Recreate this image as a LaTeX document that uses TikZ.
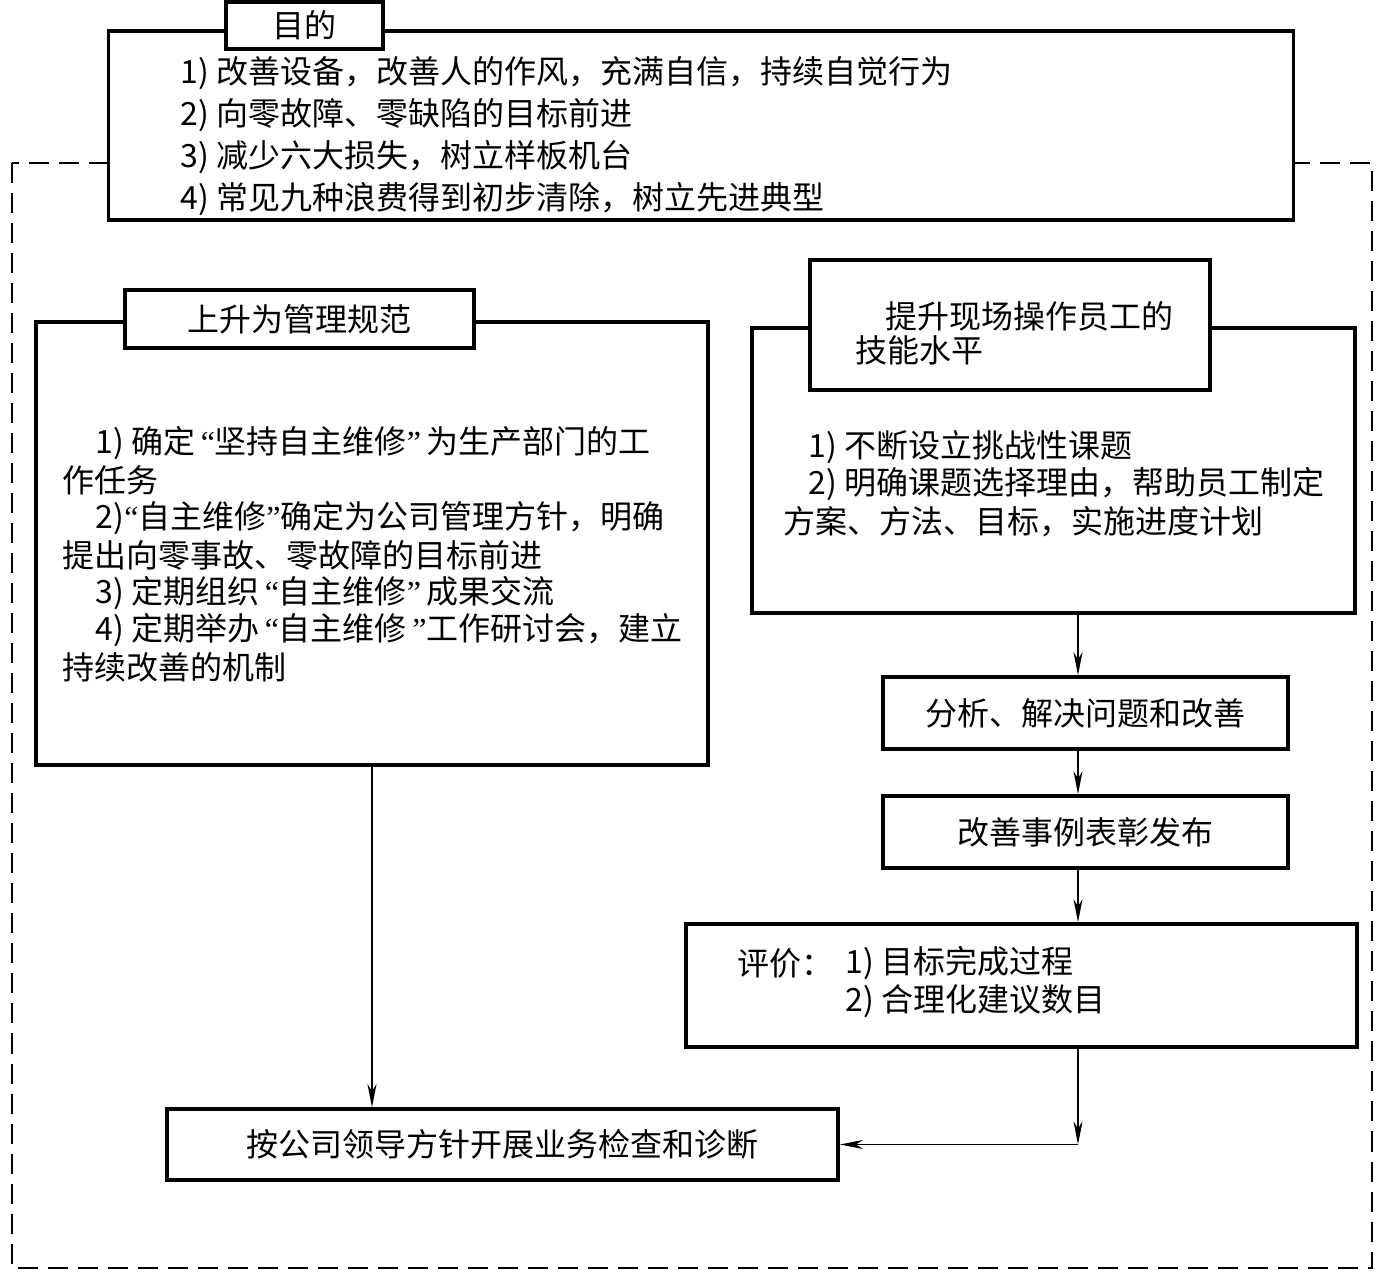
\documentclass[tikz,border=0pt]{standalone}
\usepackage{fontspec}
\setmainfont{Noto Sans CJK SC}
\newfontfamily\quotefont{Liberation Serif}
\usetikzlibrary{arrows.meta,positioning}
\newcommand{\boxfont}{\fontsize{9.1pt}{11pt}\selectfont}
\newcommand{\oq}{{\quotefont“}}
\newcommand{\cq}{{\quotefont”}}
\tikzset{panel/.style={draw,line width=1pt,fill=white,inner sep=0pt,font=\boxfont},
  txt/.style={font=\boxfont,inner sep=0pt,anchor=west},
  link/.style={line width=.45pt,-{Stealth[length=2.3mm,width=.9mm,inset=.7mm]}},
  zone/.style={line width=.6pt,dash pattern=on 2mm off 1mm}}

\begin{document}
\begin{tikzpicture}[x=.01cm,y=-.01cm]
\useasboundingbox (0,0) rectangle (1378,1277);
\draw[zone] (12,163) rectangle (1372,1268);
% goals on top
\node[panel,minimum width=11.84cm,minimum height=1.89cm] (goal) at (701,125.5) {};
\node[panel,minimum width=1.57cm,minimum height=.47cm] (goaltab) at (304.5,25.5) {目的};
\foreach \t [count=\i] in {{1) 改善设备，改善人的作风，充满自信，持续自觉行为},
  {2) 向零故障、零缺陷的目标前进},{3) 减少六大损失，树立样板机台},
  {4) 常见九种浪费得到初步清除，树立先进典型}}
  \node[txt] (goal\i) at (180,31+42*\i) {\t};
% left branch
\node[panel,minimum width=6.72cm,minimum height=4.43cm] (left) at (372,543.5) {};
\node[panel,minimum width=3.49cm,minimum height=.58cm] (lefttab) at (299.5,319) {上升为管理规范};
\foreach \x/\t [count=\i] in {95/{1) 确定\,\oq 坚持自主维修\cq\,为生产部门的工},62/{作任务},
  95/{2)\oq 自主维修\cq 确定为公司管理方针，明确},62/{提出向零事故、零故障的目标前进},
  95/{3) 定期组织\,\oq 自主维修\cq\,成果交流},95/{4) 定期举办\,\oq 自主维修\,\cq 工作研讨会，建立},
  62/{持续改善的机制}}
  \node[txt] (rule\i) at (\x,443+37.4*\i-37.4) {\t};
% right branch
\node[panel,minimum width=6.03cm,minimum height=2.85cm] (right) at (1053.5,470.5) {};
\node[panel,minimum width=4cm,minimum height=1.3cm] (righttab) at (1010,325) {};
\node[txt] (skill1) at (885,316) {提升现场操作员工的};
\node[txt] (skill2) at (855,350) {技能水平};
\foreach \x/\t [count=\i] in {808/{1) 不断设立挑战性课题},808/{2) 明确课题选择理由，帮助员工制定},
  783/{方案、方法、目标，实施进度计划}}
  \node[txt] (task\i) at (\x,447+37.5*\i-37.5) {\t};
\node[panel,minimum width=4.05cm,minimum height=.72cm] (solve) at (1085.5,713) {分析、解决问题和改善};
\node[panel,minimum width=4.05cm,minimum height=.72cm] (praise) at (1085.5,832) {改善事例表彰发布};
\node[panel,minimum width=6.71cm,minimum height=1.23cm] (assess) at (1021.5,985.5) {};
\node[txt] (assesshead) at (737,963) {评价：};
\node[txt] (assess1) at (845,963) {1) 目标完成过程};
\node[txt] (assess2) at (845,1001) {2) 合理化建议数目};
% bottom
\node[panel,minimum width=6.71cm,minimum height=.71cm] (audit) at (502.5,1144.5) {按公司领导方针开展业务检查和诊断};
\coordinate (spine) at (1078,0);
\coordinate (bend) at (spine |- audit.east);
\draw[link] (right.south -| spine) -- (solve.north -| spine);
\draw[link] (solve.south -| spine) -- (praise.north -| spine);
\draw[link] (praise.south -| spine) -- (assess.north -| spine);
\draw[link] (assess.south -| spine) -- (bend);
\draw[link] (bend) -- (audit.east);
\draw[link] (left.south) -- (left.south |- audit.north);
\end{tikzpicture}
\end{document}
